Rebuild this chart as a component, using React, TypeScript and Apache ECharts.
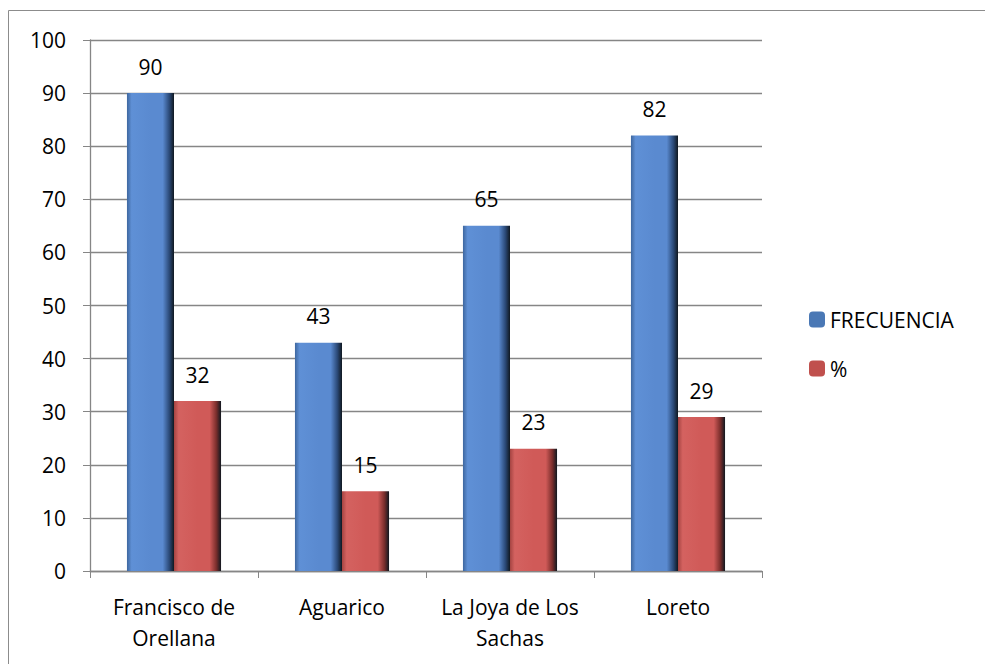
import React, { useEffect, useRef } from "react";
import * as echarts from "echarts";

const categories = ["Francisco de\nOrellana", "Aguarico", "La Joya de Los\nSachas", "Loreto"];
const frecuencia = [90, 43, 65, 82];
const porcentaje = [32, 15, 23, 29];
const seriesNames = ["FRECUENCIA", "%"];

const FONT = "'Open Sans', 'Liberation Sans', sans-serif";
const FS = 21;

function grad(dark: string, mid: string, light: string, edge: string) {
  return new echarts.graphic.LinearGradient(0, 0, 1, 0, [
    { offset: 0, color: edge },
    { offset: 0.1, color: light },
    { offset: 0.5, color: mid },
    { offset: 0.76, color: mid },
    { offset: 0.9, color: dark },
    { offset: 1, color: "#101820" },
  ]);
}

export default function App() {
  const ref = useRef<HTMLDivElement>(null);
  useEffect(() => {
    const chart = echarts.init(ref.current!, null, { renderer: "svg" });
    const blue = grad("#2b4a78", "#5a8ad0", "#5f90d6", "#3e679f");
    const red = grad("#7a2e2c", "#d05a58", "#d46260", "#a54442");
    chart.setOption({
      animation: false,
      textStyle: { fontFamily: FONT },
      graphic: [
        {
          type: "rect",
          shape: { x: 8.5, y: 10.5, width: 1000, height: 700 },
          style: { fill: "none", stroke: "#8c8c8c", lineWidth: 1 },
          silent: true,
        },
      ],
      grid: { left: 90, right: 223, top: 40, bottom: 93 },
      legend: {
        orient: "vertical",
        left: 804,
        top: 304,
        itemWidth: 16,
        itemHeight: 16,
        itemGap: 28,
        textStyle: { fontSize: FS, color: "#000", fontFamily: FONT },
        data: [
          { name: seriesNames[0], itemStyle: { color: "#4a78b5" } },
          { name: seriesNames[1], itemStyle: { color: "#c0504d" } },
        ],
      },
      xAxis: {
        type: "category",
        data: categories,
        axisLine: { lineStyle: { color: "#868686", width: 1.3 } },
        axisTick: { show: true, length: 7, interval: 0, alignWithLabel: false, lineStyle: { color: "#868686" } },
        axisLabel: { color: "#000", fontSize: FS, lineHeight: 31, margin: 20, interval: 0, fontFamily: FONT },
      },
      yAxis: {
        type: "value",
        min: 0,
        max: 100,
        interval: 10,
        axisLine: { show: true, lineStyle: { color: "#868686", width: 1.3 } },
        axisTick: { show: true, length: 7, lineStyle: { color: "#868686" } },
        splitLine: { lineStyle: { color: "#868686", width: 1.3 } },
        axisLabel: { color: "#000", fontSize: FS, margin: 24, fontFamily: FONT },
      },
      series: [
        {
          name: seriesNames[0],
          type: "bar",
          data: frecuencia,
          barWidth: "28%",
          barGap: "0%",
          itemStyle: { color: blue },
          label: { show: true, position: "top", distance: 16, fontSize: FS, color: "#000", fontFamily: FONT },
        },
        {
          name: seriesNames[1],
          type: "bar",
          data: porcentaje,
          barWidth: "28%",
          barGap: "0%",
          itemStyle: { color: red },
          label: { show: true, position: "top", distance: 16, fontSize: FS, color: "#000", fontFamily: FONT },
        },
      ],
    });
    return () => chart.dispose();
  }, []);
  return (
    <div
      ref={ref}
      style={{ position: "absolute", left: 0, top: 0, width: 985, height: 664, background: "#fff" }}
    />
  );
}
